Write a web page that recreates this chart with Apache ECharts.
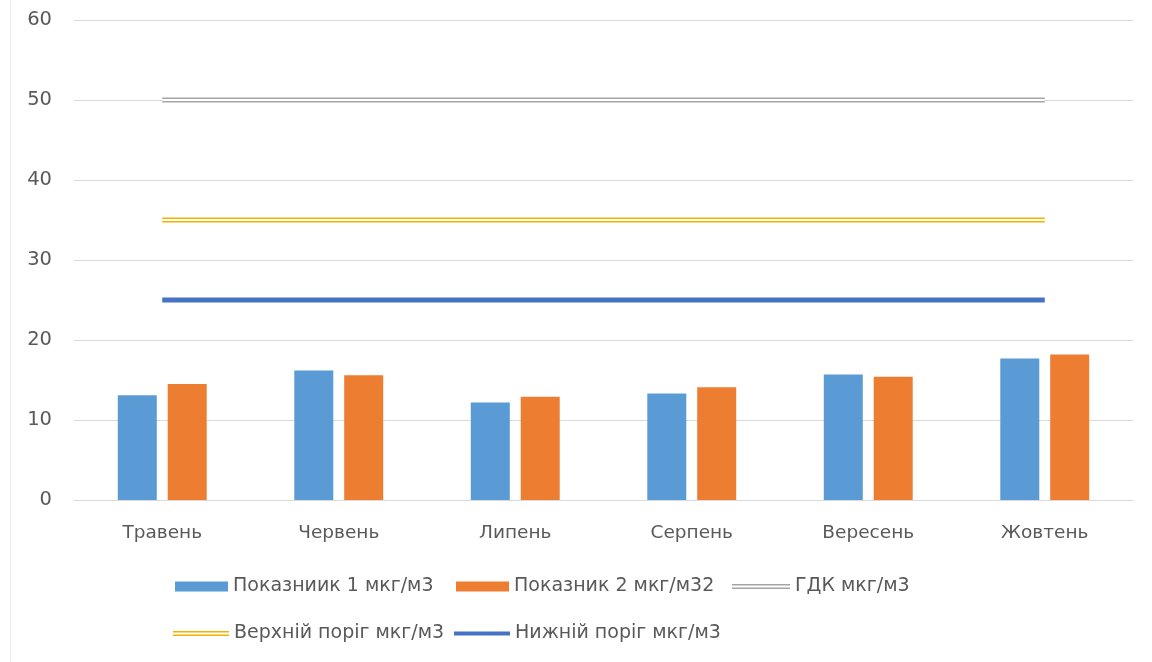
<!DOCTYPE html>
<html>
<head>
<meta charset="utf-8">
<script src="https://cdn.jsdelivr.net/npm/echarts@6/dist/echarts.min.js"></script>
<style>
  html, body { margin: 0; padding: 0; background: #ffffff; }
  #chart { width: 1152px; height: 662px; }
</style>
</head>
<body>
<div id="chart"></div>
<script>
// Months on the category axis
const months = ['Травень', 'Червень', 'Липень', 'Серпень', 'Вересень', 'Жовтень'];

// Measured concentrations per month
const indicator1 = [13.1, 16.2, 12.2, 13.3, 15.7, 17.7];
const indicator2 = [14.5, 15.6, 12.9, 14.1, 15.4, 18.2];

// Reference levels (constant across the months)
const gdkLevel = [50, 50, 50, 50, 50, 50];
const upperThreshold = [35, 35, 35, 35, 35, 35];
const lowerThreshold = [25, 25, 25, 25, 25, 25];

// Value axis ticks
const yTicks = [0, 10, 20, 30, 40, 50, 60];

const names = {
  p1: 'Показниик 1 мкг/м3',
  p2: 'Показник 2 мкг/м32',
  gdk: 'ГДК мкг/м3',
  up: 'Верхній поріг мкг/м3',
  low: 'Нижній поріг мкг/м3'
};

const FONT = '"DejaVu Sans", "Noto Sans", sans-serif';
const TEXT = '#595959';

// Legend glyphs: a wide bar, a double line and a single thick line
const iconBar = 'path://M0,0H53V10H0Z';
const iconDouble = 'path://M0,0H58V1.6H0Z M0,3.6H58V5.2H0Z';
const iconLine = 'path://M0,0H56V4H0Z';

function levelLine(name, data, color, width, z) {
  return {
    name: name, type: 'line', data: data, z: z,
    symbol: 'none', showSymbol: false, silent: true,
    color: color,
    itemStyle: { color: color },
    lineStyle: { color: color, width: width, cap: 'butt' }
  };
}

// One legend block per entry so each glyph sits at its own spot
function legendEntry(name, icon, left, top, w) {
  return {
    left: left, top: top,
    padding: 0,
    itemWidth: w, itemHeight: 10, itemGap: 0,
    selectedMode: false,
    textStyle: { color: TEXT, fontSize: 19, fontFamily: FONT },
    data: [{ name: name, icon: icon }]
  };
}

const chart = echarts.init(document.getElementById('chart'), null, { renderer: 'canvas' });

chart.setOption({
  animation: false,
  backgroundColor: '#ffffff',
  grid: { left: 74, right: 19, top: 20, bottom: 162, containLabel: false },
  xAxis: {
    type: 'category',
    data: months,
    boundaryGap: true,
    axisLine: { show: true, lineStyle: { color: '#d9d9d9', width: 1 } },
    axisTick: { show: false },
    axisLabel: { color: TEXT, fontSize: 18.5, fontFamily: FONT, margin: 24 }
  },
  yAxis: {
    type: 'value',
    min: yTicks[0],
    max: yTicks[yTicks.length - 1],
    interval: yTicks[1] - yTicks[0],
    axisLine: { show: false },
    axisTick: { show: false },
    axisLabel: { color: TEXT, fontSize: 19.5, fontFamily: FONT, margin: 22 },
    splitLine: { lineStyle: { color: '#d9d9d9', width: 1 } }
  },
  legend: [
    legendEntry(names.p1, iconBar, 175, 577, 53),
    legendEntry(names.p2, iconBar, 456, 577, 53),
    legendEntry(names.gdk, iconDouble, 732, 577, 58),
    legendEntry(names.up, iconDouble, 173, 624, 56),
    legendEntry(names.low, iconLine, 454, 624, 56)
  ],
  series: [
    {
      name: names.p1, type: 'bar', data: indicator1,
      barWidth: 39, barGap: '28%',
      itemStyle: { color: '#5b9bd5' }
    },
    {
      name: names.p2, type: 'bar', data: indicator2,
      barWidth: 39, barGap: '28%',
      itemStyle: { color: '#ed7d31' }
    },
    levelLine(names.gdk, gdkLevel, '#a5a5a5', 5.2, 3),
    levelLine('gdk-inner', gdkLevel, '#ffffff', 2.2, 4),
    levelLine(names.up, upperThreshold, '#f0b400', 5.2, 3),
    levelLine('up-inner', upperThreshold, '#ffffff', 2.2, 4),
    levelLine(names.low, lowerThreshold, '#4472c4', 5, 3)
  ],
  graphic: [
    {
      type: 'line', silent: true,
      shape: { x1: 10.5, y1: 0, x2: 10.5, y2: 662 },
      style: { stroke: '#ececec', lineWidth: 1 }
    }
  ]
});
</script>
</body>
</html>
